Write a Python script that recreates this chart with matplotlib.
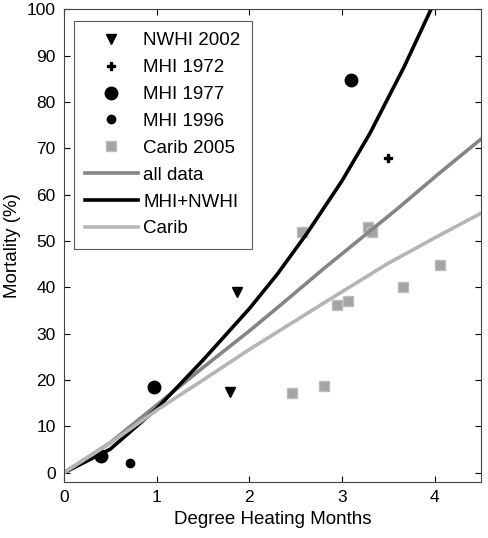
import numpy as np
import matplotlib
matplotlib.use("Agg")
import matplotlib.pyplot as plt

plt.rcParams['font.family'] = ['Liberation Sans', 'DejaVu Sans']

# observations
nwhi2002_x = [1.87, 1.79]
nwhi2002_y = [38.9, 17.4]
mhi1972_x = [3.50]
mhi1972_y = [68.0]
mhi1977_x = [0.40, 0.97, 3.10]
mhi1977_y = [3.6, 18.6, 84.8]
mhi1996_x = [0.71]
mhi1996_y = [2.1]
carib2005_x = [2.46, 2.57, 2.80, 2.95, 3.06, 3.28, 3.32, 3.66, 4.06]
carib2005_y = [17.1, 52.0, 18.8, 36.1, 37.1, 53.1, 51.9, 40.0, 44.9]

# fitted curves
all_x = [0, 0.5, 1.0, 1.5, 2.0, 2.32, 2.8, 3.28, 3.6, 4.03, 4.5]
all_y = [0, 6.5, 14.6, 22.7, 30.6, 35.9, 44.0, 51.8, 57.0, 64.3, 72.0]
mhi_x = [0, 0.5, 1.0, 1.5, 2.0, 2.3, 2.62, 3.0, 3.3, 3.67, 3.96, 4.05]
mhi_y = [0, 5.1, 13.8, 24.3, 35.4, 42.8, 51.6, 63.0, 73.2, 87.6, 100.0, 103.5]
carib_x = [0, 0.5, 1.0, 1.5, 2.0, 2.85, 3.49, 4.03, 4.5]
carib_y = [0, 6.4, 13.5, 20.0, 26.6, 37.2, 45.1, 51.0, 56.0]

fig = plt.figure(figsize=(4.88, 5.38), dpi=100)
ax = fig.add_axes([0.131, 0.104, 0.855, 0.879])

ax.plot(nwhi2002_x, nwhi2002_y, 'v', color='k', ms=7, ls='none', label='NWHI 2002')
ax.plot(mhi1972_x, mhi1972_y, 'P', color='k', ms=6, ls='none', label='MHI 1972')
ax.plot(mhi1977_x, mhi1977_y, 'o', color='k', ms=9, ls='none', label='MHI 1977')
ax.plot(mhi1996_x, mhi1996_y, 'o', color='k', ms=6, ls='none', label='MHI 1996')
ax.plot(carib2005_x, carib2005_y, 's', color='#a3a3a3', mec='#bdbdbd', ms=7.5,
        ls='none', label='Carib 2005')
ax.plot(all_x, all_y, color='#858585', lw=2.6, label='all data')
ax.plot(mhi_x, mhi_y, color='k', lw=2.6, label='MHI+NWHI')
ax.plot(carib_x, carib_y, color='#b5b5b5', lw=2.6, label='Carib')

ax.set_xlim(0, 4.5)
ax.set_ylim(-2, 100)
ax.set_xticks([0, 1, 2, 3, 4])
ax.set_yticks(range(0, 101, 10))
ax.tick_params(direction='in', top=True, right=True, length=4, labelsize=12.5, pad=6)
for s in ax.spines.values():
    s.set_color('#444444')
ax.set_xlabel('Degree Heating Months', fontsize=13.5)
ax.set_ylabel('Mortality (%)', fontsize=13.5)

leg = ax.legend(loc='upper left', bbox_to_anchor=(0.024, 0.975), borderaxespad=0,
                fontsize=13.5, frameon=True, fancybox=False, edgecolor='#333333',
                handlelength=2.8, handletextpad=0.3, labelspacing=0.52,
                borderpad=0.6, numpoints=1)
leg.get_frame().set_linewidth(0.8)

fig.savefig('out.png', dpi=100)
